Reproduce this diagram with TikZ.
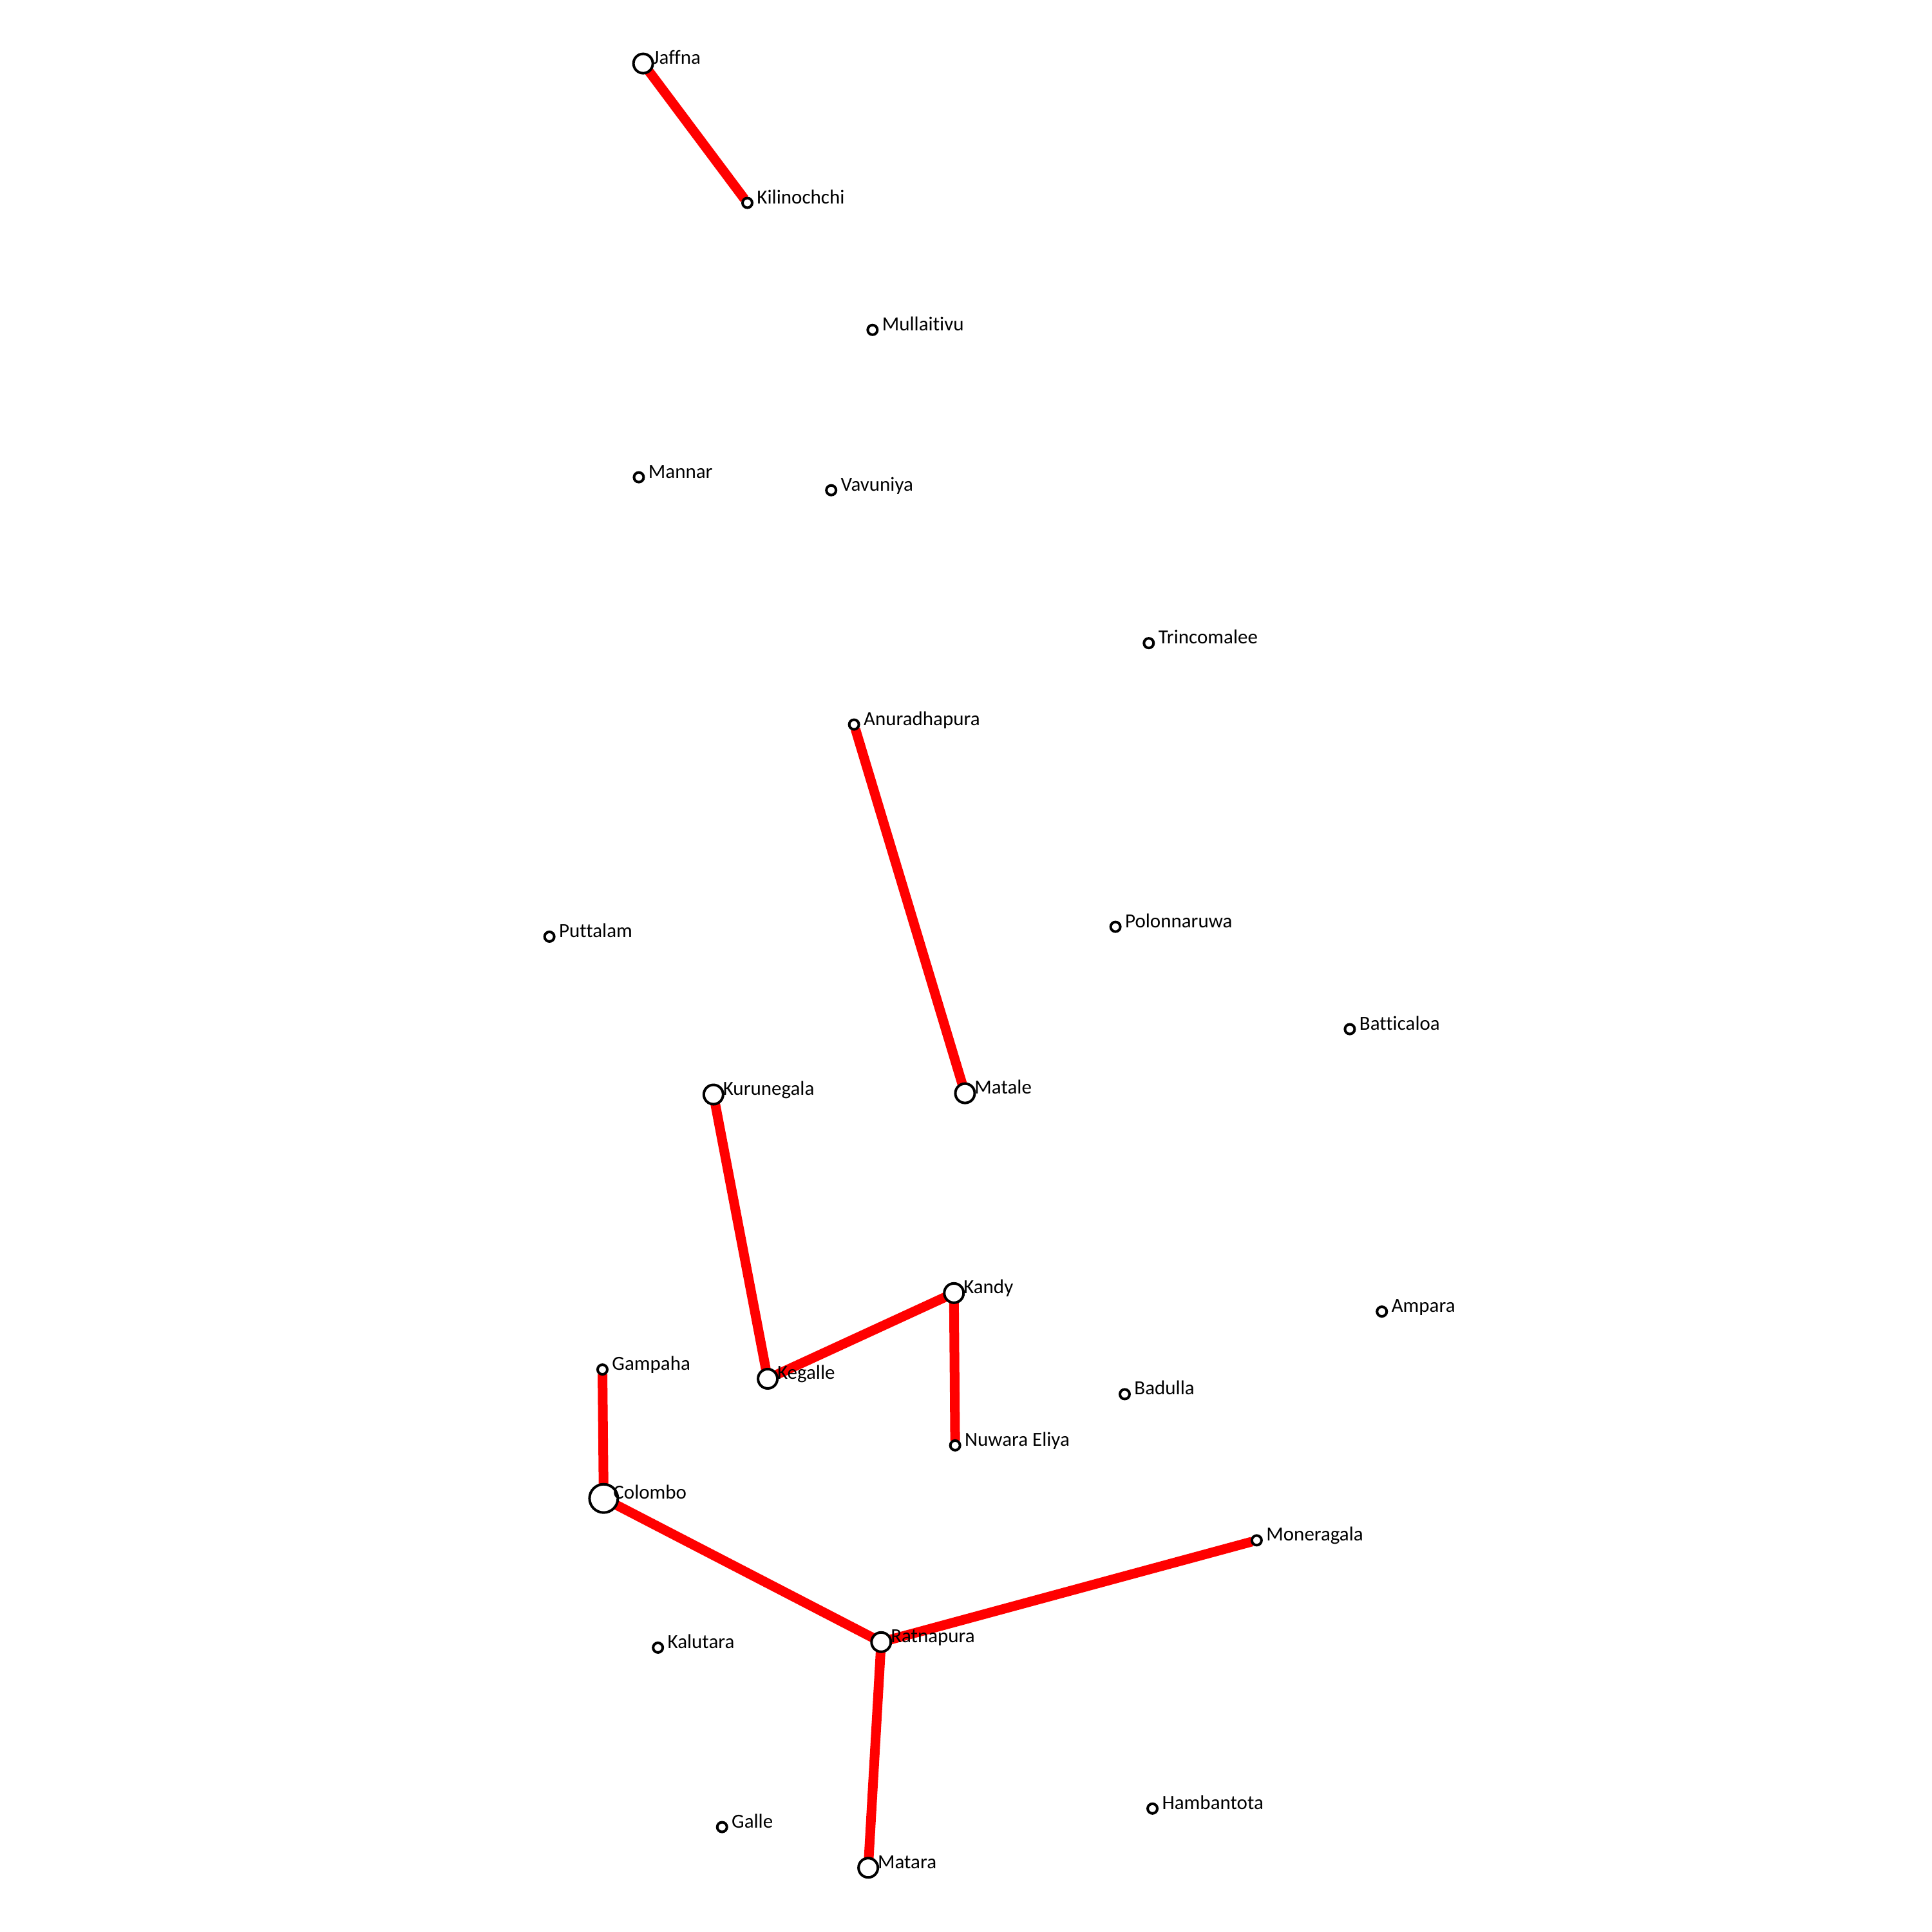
\documentclass[tikz,border=0pt]{standalone}
\usepackage{fontspec}
\setmainfont[Ligatures=NoCommon,Contextuals=NoAlternate]{Carlito}
\usetikzlibrary{backgrounds}
\tikzset{
  town/.style={circle,draw=black,fill=white,line width=4pt,inner sep=0pt,outer sep=0pt},
  small/.style={town,minimum size=15pt},
  med/.style={town,minimum size=30pt},
  large/.style={town,minimum size=44pt},
  tag/.style={anchor=base west,inner sep=0pt,outer sep=0pt,xshift=15pt,yshift=-1pt,font=\fontsize{31}{31}\selectfont,text=black},
  link/.style={draw=red,line width=15pt}
}
\newcommand{\town}[5]{\node[#1] (#2) at (#3) {}; \node[tag] (#2t) at (#3) {#4#5};}
\begin{document}
\begin{tikzpicture}[x=1.915pt,y=-1.915pt]
\useasboundingbox (0.5,0.5) rectangle (1567.1,1567.1);
\town{med}{jaffna}{522,52}{Jaffna}{}
\town{small}{kilinochchi}{606.5,165}{Kilinochchi}{}
\town{small}{mullaitivu}{708,268}{Mullaitivu}{}
\town{small}{mannar}{518.5,387.5}{Mannar}{}
\town{small}{vavuniya}{674.5,398}{Vavuniya}{}
\town{small}{trincomalee}{932,522}{Trincomalee}{}
\town{small}{anuradhapura}{693,588}{Anuradhapura}{}
\town{small}{puttalam}{446,760}{Puttalam}{}
\town{small}{polonnaruwa}{905,752}{Polonnaruwa}{}
\town{small}{batticaloa}{1095,835}{Batticaloa}{}
\town{med}{kurunegala}{579,888}{Kurunegala}{}
\town{med}{matale}{783,887}{Matale}{}
\town{med}{kandy}{774,1049}{Kandy}{}
\town{small}{ampara}{1121,1064}{Ampara}{}
\town{small}{gampaha}{489,1111}{Gampaha}{}
\town{med}{kegalle}{623,1118.5}{Kegalle}{}
\town{small}{badulla}{912.5,1131}{Badulla}{}
\town{small}{nuwara}{775,1172.5}{Nuwara Eliya}{}
\town{large}{colombo}{490,1215.5}{Colombo}{}
\town{small}{moneragala}{1019.5,1249.5}{Moneragala}{}
\town{med}{ratnapura}{715,1332}{Ratnapura}{}
\town{small}{kalutara}{534,1336.5}{Kalutara}{}
\town{small}{hambantota}{935,1467}{Hambantota}{}
\town{small}{galle}{586,1482}{Galle}{}
\town{med}{matara}{704.5,1515}{Matara}{}
\begin{scope}[on background layer]
\draw[link] (jaffna) -- (kilinochchi);
\draw[link] (anuradhapura) -- (matale);
\draw[link] (kurunegala) -- (kegalle);
\draw[link] (kegalle) -- (kandy);
\draw[link] (kandy) -- (nuwara);
\draw[link] (gampaha) -- (colombo);
\draw[link] (colombo) -- (ratnapura);
\draw[link] (ratnapura) -- (moneragala);
\draw[link] (ratnapura) -- (matara);
\end{scope}
\end{tikzpicture}
\end{document}
